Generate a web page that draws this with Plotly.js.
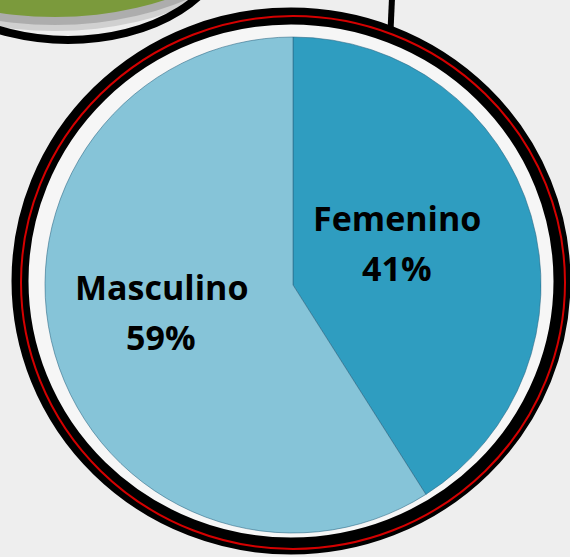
<!DOCTYPE html>
<html>
<head>
<meta charset="utf-8">
<script src="https://cdn.plot.ly/plotly-3.0.1.min.js"></script>
<style>html,body{margin:0;padding:0;background:#eeeeee;}#chart{width:570px;height:557px;}</style>
</head>
<body>
<div id="chart"></div>
<script>
// Data
const labels = ['Femenino', 'Masculino'];
const values = [41, 59];
const sliceColors = ['#2f9dc0', '#86c4d8'];

const W = 570, H = 557;
const px = x => x / W;
const py = y => 1 - y / H;

// pie geometry (pixels)
const cx = 293, cy = 285, r = 248;

const trace = {
  type: 'pie',
  labels: labels,
  values: values,
  sort: false,
  direction: 'clockwise',
  rotation: 0,
  textinfo: 'none',
  hoverinfo: 'none',
  showlegend: false,
  marker: {colors: sliceColors, line: {color: 'rgba(40,100,130,0.55)', width: 1}},
  domain: {x: [px(cx - r), px(cx + r)], y: [py(cy + r), py(cy - r)]}
};

const shapes = [
  // green callout shape (top-left): soft shadow, fill, outline
  {type: 'circle', xref: 'paper', yref: 'paper', layer: 'below',
   x0: px(-159), x1: px(269), y0: py(31), y1: py(-209),
   fillcolor: 'rgba(170,170,170,0.45)', line: {width: 0}},
  {type: 'circle', xref: 'paper', yref: 'paper', layer: 'below',
   x0: px(-159), x1: px(269), y0: py(25), y1: py(-215),
   fillcolor: 'rgba(150,150,150,0.6)', line: {width: 0}},
  {type: 'circle', xref: 'paper', yref: 'paper', layer: 'below',
   x0: px(-159), x1: px(269), y0: py(17), y1: py(-223),
   fillcolor: '#7b9a3c', line: {width: 0}},
  {type: 'circle', xref: 'paper', yref: 'paper', layer: 'below',
   x0: px(-90), x1: px(226), y0: py(40), y1: py(-160),
   fillcolor: 'rgba(0,0,0,0)', line: {color: '#000000', width: 8}},
  // connector line at top
  {type: 'line', xref: 'paper', yref: 'paper', layer: 'below',
   x0: px(392), x1: px(390), y0: py(-2), y1: py(42),
   line: {color: '#000000', width: 6}},
  // ring interior
  {type: 'circle', xref: 'paper', yref: 'paper', layer: 'below',
   x0: px(22), x1: px(560), y0: py(545), y1: py(17),
   fillcolor: '#f6f6f6', line: {width: 0}},
  // black ring
  {type: 'circle', xref: 'paper', yref: 'paper', layer: 'below',
   x0: px(20), x1: px(562), y0: py(546), y1: py(16),
   fillcolor: 'rgba(0,0,0,0)', line: {color: '#000000', width: 17}},
  // red line
  {type: 'circle', xref: 'paper', yref: 'paper', layer: 'below',
   x0: px(21), x1: px(565), y0: py(549), y1: py(16),
   fillcolor: 'rgba(0,0,0,0)', line: {color: '#d40000', width: 2}}
];

const font = {family: '"Open Sans", Lato, sans-serif', size: 34, color: '#000000', weight: 'bold'};
const labelPos = [[397, 218, 268], [161, 287, 337]];
const annotations = [];
labels.forEach((lab, i) => {
  annotations.push({xref: 'paper', yref: 'paper', x: px(labelPos[i][0]), y: py(labelPos[i][1]),
    xanchor: 'center', yanchor: 'middle', showarrow: false, text: '<b>' + lab + '</b>', font: font});
  annotations.push({xref: 'paper', yref: 'paper', x: px(labelPos[i][0]), y: py(labelPos[i][2]),
    xanchor: 'center', yanchor: 'middle', showarrow: false, text: '<b>' + values[i] + '%</b>', font: font});
});

const layout = {
  width: W, height: H,
  margin: {l: 0, r: 0, t: 0, b: 0},
  paper_bgcolor: '#eeeeee',
  plot_bgcolor: '#eeeeee',
  showlegend: false,
  shapes: shapes,
  annotations: annotations
};

Plotly.newPlot('chart', [trace], layout, {staticPlot: true, displayModeBar: false});
</script>
</body>
</html>
